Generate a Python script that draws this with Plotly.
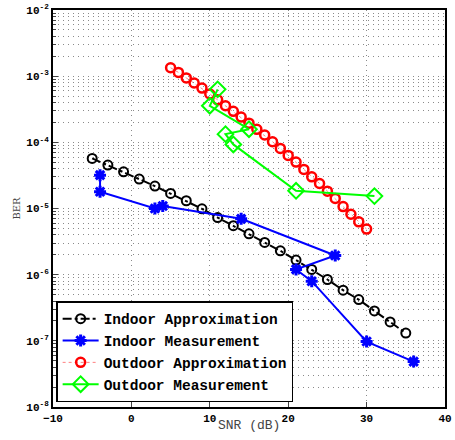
import plotly.graph_objects as go

# ---- data ----
indoor_approx_snr = [-5, -3, -1, 1, 3, 5, 7, 9, 11, 13, 15, 17, 19, 21, 23, 25, 27, 29, 31, 33, 35]
indoor_approx_ber = [5.71e-5, 4.53e-5, 3.58e-5, 2.78e-5, 2.18e-5, 1.69e-5, 1.31e-5, 9.9e-6,
                     7.3e-6, 5.5e-6, 4.14e-6, 3.07e-6, 2.29e-6, 1.66e-6, 1.20e-6, 8.45e-7,
                     5.82e-7, 4.2e-7, 2.83e-7, 1.93e-7, 1.31e-7]

indoor_meas_snr = [-4, -4, 3, 4, 14, 26, 21, 23, 30, 36]
indoor_meas_ber = [3.19e-5, 1.79e-5, 1.0e-5, 1.09e-5, 6.98e-6, 1.95e-6, 1.20e-6, 7.97e-7, 9.75e-8, 4.86e-8]

outdoor_approx_snr = list(range(5, 31))
outdoor_approx_ber = [1.34e-3, 1.14e-3, 9.4e-4, 7.87e-4, 6.61e-4, 5.37e-4, 4.39e-4, 3.57e-4,
                      2.94e-4, 2.41e-4, 1.95e-4, 1.57e-4, 1.29e-4, 1.02e-4, 8.1e-5, 6.35e-5,
                      5.03e-5, 3.9e-5, 3.01e-5, 2.39e-5, 1.83e-5, 1.42e-5, 1.07e-5, 8.2e-6,
                      6.29e-6, 4.88e-6]

outdoor_meas_snr = [11, 10, 15, 12, 13, 21, 31]
outdoor_meas_ber = [6.32e-4, 3.57e-4, 1.58e-4, 1.33e-4, 9.3e-5, 1.85e-5, 1.54e-5]

series_names = ["Indoor Approximation", "Indoor Measurement",
                "Outdoor Approximation", "Outdoor Measurement"]

x_ticks = [-10, 0, 10, 20, 30, 40]
y_exps = [-2, -3, -4, -5, -6, -7, -8]

FONT = "Liberation Mono, Courier New, monospace"
GRID = "#8a8a8a"
GDASH = "1px,4px"

fig = go.Figure()
fig.add_trace(go.Scatter(
    x=indoor_approx_snr, y=indoor_approx_ber, name=series_names[0], mode="lines+markers",
    line=dict(color="black", width=2, dash="dashdot"),
    marker=dict(symbol="circle-open", size=9, color="black", line=dict(width=2, color="black"))))
fig.add_trace(go.Scatter(
    x=indoor_meas_snr, y=indoor_meas_ber, name=series_names[1], mode="lines+markers",
    line=dict(color="#0000ff", width=2),
    marker=dict(symbol="asterisk-open", size=10, color="#0000ff", line=dict(width=3, color="#0000ff"))))
fig.add_trace(go.Scatter(
    x=outdoor_approx_snr, y=outdoor_approx_ber, name=series_names[2], mode="lines+markers",
    line=dict(color="#ff8080", width=1, dash="dot"),
    marker=dict(symbol="circle-open", size=9, color="#ff0000", line=dict(width=2.5, color="#ff0000"))))
fig.add_trace(go.Scatter(
    x=outdoor_meas_snr, y=outdoor_meas_ber, name=series_names[3], mode="lines+markers",
    line=dict(color="#00ff00", width=2),
    marker=dict(symbol="diamond-open", size=12, color="#00ff00", line=dict(width=2, color="#00ff00"))))

minor_vals = [m * 10.0 ** e for e in range(-8, -2) for m in range(2, 10)]

fig.update_layout(
    width=455, height=440,
    margin=dict(l=53, r=10, t=10, b=33, autoexpand=False),
    paper_bgcolor="white", plot_bgcolor="white",
    showlegend=True,
    legend=dict(x=0.008, y=0.012, xanchor="left", yanchor="bottom",
                bgcolor="white", bordercolor="black", borderwidth=1.5,
                font=dict(family=FONT, size=14.5, color="black", weight="bold"),
                tracegroupgap=0, itemwidth=36),
    xaxis=dict(range=[-10, 40], tickvals=x_ticks, ticks="inside", ticklen=5,
               showline=True, linecolor="black", linewidth=2, mirror=True,
               showgrid=True, gridcolor=GRID, griddash=GDASH, gridwidth=1,
               zeroline=False, automargin=False,
               tickfont=dict(family=FONT, size=11, color="black", weight="bold")),
    yaxis=dict(type="log", range=[-8, -2],
               tickvals=[10.0 ** e for e in y_exps],
               ticktext=["10<sup>%d</sup>" % e for e in y_exps],
               ticks="inside", ticklen=5,
               showline=True, linecolor="black", linewidth=2, mirror=True,
               showgrid=True, gridcolor=GRID, griddash=GDASH, gridwidth=1,
               zeroline=False, automargin=False,
               minor=dict(tickmode="array", tickvals=minor_vals, ticks="inside", ticklen=3,
                          showgrid=True, gridcolor=GRID, griddash=GDASH, gridwidth=1),
               tickfont=dict(family=FONT, size=11, color="black", weight="bold"),
               title=dict(text="BER", font=dict(family="DejaVu Serif, serif", size=10, color="#444444"),
                          standoff=4)),
    annotations=[dict(text="SNR (dB)", xref="paper", yref="paper", x=0.5, y=-0.046,
                      xanchor="center", yanchor="middle", showarrow=False,
                      font=dict(family=FONT, size=13, color="#444444"))],
)

fig.write_html("out.html", config={"displayModeBar": False},
               post_script="document.body.style.margin='0';")
